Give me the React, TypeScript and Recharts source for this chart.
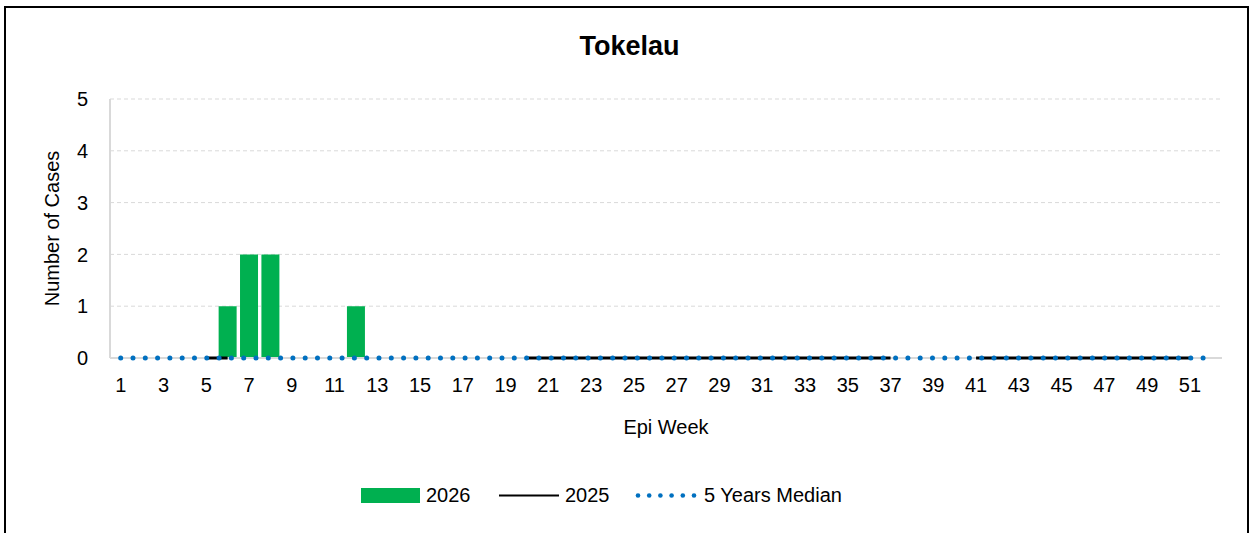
import { Bar, CartesianGrid, ComposedChart, Line, ReferenceLine, XAxis, YAxis } from "recharts";

const FONT = "'Liberation Sans', Arial, sans-serif";

const weeks = [
  1, 2, 3, 4, 5, 6, 7, 8, 9, 10, 11, 12, 13, 14, 15, 16, 17, 18, 19, 20, 21, 22, 23, 24, 25, 26,
  27, 28, 29, 30, 31, 32, 33, 34, 35, 36, 37, 38, 39, 40, 41, 42, 43, 44, 45, 46, 47, 48, 49, 50, 51, 52,
];

const cases2026 = [
  null, null, null, null, null, 1, 2, 2, null, null, null, 1, null, null, null, null, null, null, null, null, null, null, null, null, null, null,
  null, null, null, null, null, null, null, null, null, null, null, null, null, null, null, null, null, null, null, null, null, null, null, null, null, null,
];

const cases2025 = [
  null, null, null, null, 0, 0, null, null, null, null, null, null, null, null, null, null, null, null, null, 0, 0, 0, 0, 0, 0, 0,
  0, 0, 0, 0, 0, 0, 0, 0, 0, 0, 0, null, null, null, 0, 0, 0, 0, 0, 0, 0, 0, 0, 0, 0, null,
];

const median5y = [
  0, 0, 0, 0, 0, 0, 0, 0, 0, 0, 0, 0, 0, 0, 0, 0, 0, 0, 0, 0, 0, 0, 0, 0, 0, 0,
  0, 0, 0, 0, 0, 0, 0, 0, 0, 0, 0, 0, 0, 0, 0, 0, 0, 0, 0, 0, 0, 0, 0, 0, 0, 0,
];

const yTicks = [0, 1, 2, 3, 4, 5];

const data = weeks.map((w, i) => ({
  week: w,
  y2026: cases2026[i],
  y2025: cases2025[i],
  median: median5y[i],
}));

function YLabel(props: any) {
  const vb = props.viewBox || { x: 0, y: 0, width: 0, height: 0 };
  const cx = 52;
  const cy = vb.y + vb.height / 2;
  return (
    <text
      x={cx}
      y={cy}
      transform={`rotate(-90 ${cx} ${cy})`}
      textAnchor="middle"
      dominantBaseline="central"
      fontSize={20}
      fontFamily={FONT}
      fill="#000"
    >
      Number of Cases
    </text>
  );
}

function ChartLegend() {
  const dots = [0, 1, 2, 3, 4, 5];
  return (
    <svg width={600} height={30} style={{ position: "absolute", left: 340, top: 480 }}>
      <rect x={21} y={8} width={59} height={15} fill="#00B050" />
      <text x={86} y={22} fontSize={20} fontFamily={FONT} fill="#000">2026</text>
      <line x1={159} x2={219} y1={15.5} y2={15.5} stroke="#000" strokeWidth={2} />
      <text x={225} y={22} fontSize={20} fontFamily={FONT} fill="#000">2025</text>
      {dots.map((d) => (
        <circle key={d} cx={298 + d * 11.2} cy={15.5} r={2.3} fill="#0070C0" />
      ))}
      <text x={364} y={22} fontSize={20} fontFamily={FONT} fill="#000">5 Years Median</text>
    </svg>
  );
}

export default function App() {
  return (
    <div style={{ position: "absolute", left: 0, top: 0, width: 1255, height: 533, overflow: "hidden", background: "#fff" }}>
      <div
        style={{
          position: "absolute",
          left: 4,
          top: 6,
          width: 1245,
          height: 600,
          border: "2px solid #000",
          boxSizing: "border-box",
        }}
      />
      <div
        style={{
          position: "absolute",
          left: 0,
          width: 1255,
          top: 30,
          textAlign: "center",
          fontFamily: FONT,
          fontWeight: "bold",
          fontSize: 27,
          lineHeight: "32px",
          paddingLeft: 2,
        }}
      >
        Tokelau
      </div>
      <div style={{ position: "absolute", left: 0, top: 0 }}>
        <ComposedChart
          width={1255}
          height={533}
          data={data}
          margin={{ top: 99, right: 33, bottom: 95, left: 50 }}
          barCategoryGap="8%"
        >
          <CartesianGrid vertical={false} stroke="#d9d9d9" strokeDasharray="4 3" />
          <XAxis
            dataKey="week"
            interval={1}
            height={80}
            tickLine={false}
            tickSize={0}
            tickMargin={20}
            axisLine={false}
            tick={{ fontSize: 20, fontFamily: FONT, fill: "#000" }}
            label={{ value: "Epi Week", position: "insideBottom", offset: 4, fontSize: 20, fontFamily: FONT, fill: "#000" }}
          />
          <YAxis
            width={60}
            domain={[0, 5]}
            ticks={yTicks}
            tickLine={false}
            tickSize={0}
            tickMargin={22}
            axisLine={{ stroke: "#d9d9d9", strokeWidth: 2 }}
            tick={{ fontSize: 20, fontFamily: FONT, fill: "#000" }}
            label={<YLabel />}
          />
          <ReferenceLine y={0} stroke="#d9d9d9" strokeWidth={2} />
          <Bar dataKey="y2026" fill="#00B050" isAnimationActive={false} />
          <Line
            dataKey="y2025"
            stroke="#000"
            strokeWidth={3}
            dot={false}
            activeDot={false}
            connectNulls={false}
            isAnimationActive={false}
          />
          <Line
            dataKey="median"
            stroke="#0070C0"
            strokeWidth={5}
            strokeLinecap="round"
            strokeDasharray="0 12.3"
            dot={false}
            activeDot={false}
            isAnimationActive={false}
          />
        </ComposedChart>
      </div>
      <ChartLegend />
    </div>
  );
}
